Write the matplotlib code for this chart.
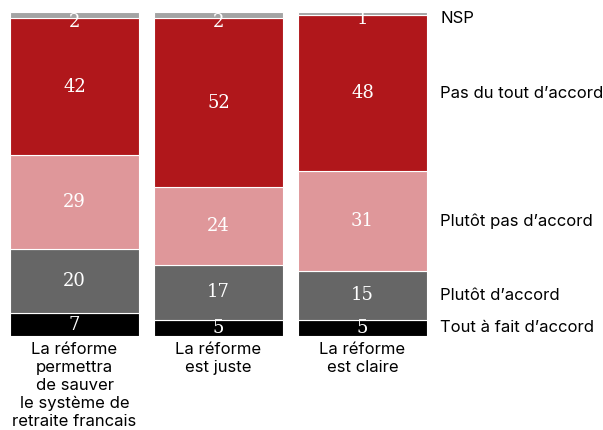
import numpy as np
import matplotlib
matplotlib.use("Agg")
import matplotlib.pyplot as plt

# survey answers, bottom to top, in percent
CATEGORIES = ["La réforme\npermettra\nde sauver\nle système de\nretraite francais",
              "La réforme\nest juste",
              "La réforme\nest claire"]
ANSWERS = ["Tout à fait d’accord", "Plutôt d’accord", "Plutôt pas d’accord",
           "Pas du tout d’accord", "NSP"]
TOUT_A_FAIT = [7, 5, 5]
PLUTOT = [20, 17, 15]
PLUTOT_PAS = [29, 24, 31]
PAS_DU_TOUT = [42, 52, 48]
NSP = [2, 2, 1]

COLORS = ["#000000", "#666666", "#df979a", "#b0171b", "#a4a4a4"]


def main():
    series = [TOUT_A_FAIT, PLUTOT, PLUTOT_PAS, PAS_DU_TOUT, NSP]

    fig = plt.figure(figsize=(6.03, 4.30), dpi=100)
    ax = fig.add_axes([10 / 603, 94 / 430, 417 / 603, 324 / 430])

    x = np.arange(len(CATEGORIES))
    width = 0.896
    bottom = np.zeros(len(CATEGORIES))
    for vals, col in zip(series, COLORS):
        vals = np.array(vals)
        ax.bar(x, vals, width, bottom=bottom, color=col,
               edgecolor="white", linewidth=0.8)
        for xi, b, v in zip(x, bottom, vals):
            yc = b + v / 2
            if v < 3:
                yc = b - 1.2
            ax.text(xi, yc, str(v), ha="center", va="center", color="white",
                    fontsize=13, family="DejaVu Serif")
        bottom += vals

    # legend-like labels next to the last bar
    last = np.cumsum([s[-1] for s in series])
    starts = last - np.array([s[-1] for s in series])
    for name, s0, s1 in zip(ANSWERS, starts, last):
        yc = (s0 + s1) / 2
        if s1 - s0 < 3:
            yc -= 1.5
        ax.text(2.54, yc, name, ha="left", va="center",
                fontsize=12, family="Inter", color="black", clip_on=False)

    for xi, cat in zip(x, CATEGORIES):
        ax.text(xi, -1.8, cat, ha="center", va="top", fontsize=12,
                family="Inter", linespacing=1.25, clip_on=False)

    ax.set_xlim(-0.448, 2.448)
    ax.set_ylim(0, 100)
    ax.axis("off")

    fig.savefig("out.png", dpi=100)


if __name__ == "__main__":
    main()
